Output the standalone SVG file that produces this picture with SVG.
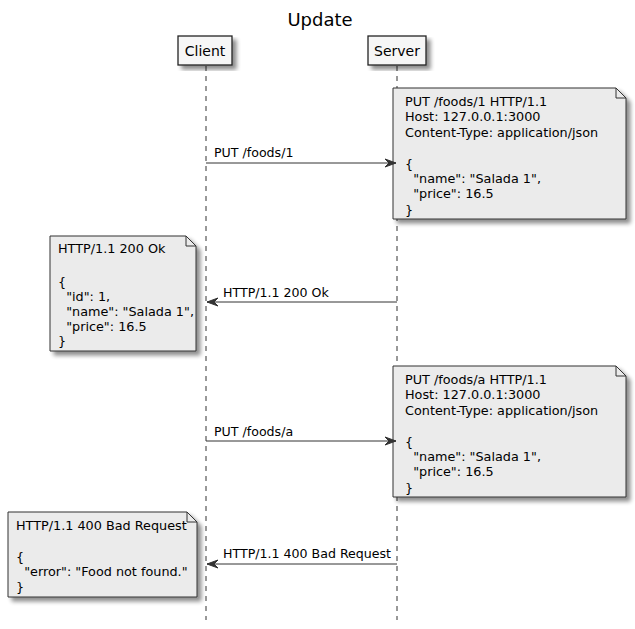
<svg xmlns="http://www.w3.org/2000/svg" width="635" height="629" viewBox="0 0 635 629">
<defs>
<filter id="sh" x="-10%" y="-10%" width="130%" height="130%">
<feGaussianBlur in="SourceAlpha" stdDeviation="2"/>
<feOffset dx="4" dy="4" result="b"/>
<feComponentTransfer><feFuncA type="linear" slope="0.45"/></feComponentTransfer>
<feMerge><feMergeNode/><feMergeNode in="SourceGraphic"/></feMerge>
</filter>
<marker id="ah" viewBox="0 0 12 10" refX="11" refY="5" markerWidth="12" markerHeight="10" markerUnits="userSpaceOnUse" orient="auto">
<polygon points="0,1 11,5 0,9 4,5" fill="#333" stroke="#333" stroke-width="1"/>
</marker>
</defs>
<style>
text{font-family:"DejaVu Sans","Liberation Sans",sans-serif;fill:#000}
.t{font-size:18px}
.p{font-size:14px}
.m{font-size:12.6px}
.n{font-size:12.8px}
.life{stroke:#333;stroke-width:1;stroke-dasharray:5,5}
.box{fill:#F6F6F6;stroke:#222;stroke-width:1.3;filter:url(#sh)}
.note{fill:#EBEBEB;stroke:#333;stroke-width:1;filter:url(#sh)}
.fold{fill:none;stroke:#333;stroke-width:1}
.msg{stroke:#333;stroke-width:1;marker-end:url(#ah)}
</style>
<rect width="635" height="629" fill="#fff"/>
<text class="t" x="320" y="26" text-anchor="middle">Update</text>

<g id="lifelines">
<line class="life" x1="206" y1="66" x2="206" y2="620"/>
<line class="life" x1="397" y1="66" x2="397" y2="620"/>
</g>

<g id="client">
<rect class="box" x="178" y="36" width="54" height="29"/>
<text class="p" x="205" y="56" text-anchor="middle">Client</text>
</g>
<g id="server">
<rect class="box" x="368" y="36" width="58" height="29"/>
<text class="p" x="397" y="56" text-anchor="middle">Server</text>
</g>

<g id="note1">
<path class="note" d="M393,88 H616 L626,98 V219 H393 Z"/>
<path class="fold" d="M616,88 V98 H626"/>
<text class="n" x="405" y="106">PUT /foods/1 HTTP/1.1</text>
<text class="n" x="405" y="121">Host: 127.0.0.1:3000</text>
<text class="n" x="405" y="137">Content-Type: application/json</text>
<text class="n" x="405" y="168">{</text>
<text class="n" x="405" y="183" xml:space="preserve">  "name": "Salada 1",</text>
<text class="n" x="405" y="198" xml:space="preserve">  "price": 16.5</text>
<text class="n" x="405" y="214">}</text>
</g>

<g id="note2">
<path class="note" d="M50,236 H186 L196,246 V351 H50 Z"/>
<path class="fold" d="M186,236 V246 H196"/>
<text class="n" x="58" y="253">HTTP/1.1 200 Ok</text>
<text class="n" x="58" y="286">{</text>
<text class="n" x="58" y="301" xml:space="preserve">  "id": 1,</text>
<text class="n" x="58" y="316" xml:space="preserve">  "name": "Salada 1",</text>
<text class="n" x="58" y="331" xml:space="preserve">  "price": 16.5</text>
<text class="n" x="58" y="345">}</text>
</g>

<g id="note3">
<path class="note" d="M393,366 H616 L626,376 V497 H393 Z"/>
<path class="fold" d="M616,366 V376 H626"/>
<text class="n" x="405" y="384">PUT /foods/a HTTP/1.1</text>
<text class="n" x="405" y="399">Host: 127.0.0.1:3000</text>
<text class="n" x="405" y="415">Content-Type: application/json</text>
<text class="n" x="405" y="446">{</text>
<text class="n" x="405" y="461" xml:space="preserve">  "name": "Salada 1",</text>
<text class="n" x="405" y="476" xml:space="preserve">  "price": 16.5</text>
<text class="n" x="405" y="492">}</text>
</g>

<g id="note4">
<path class="note" d="M8,512 H187 L197,522 V597 H8 Z"/>
<path class="fold" d="M187,512 V522 H197"/>
<text class="n" x="16" y="530">HTTP/1.1 400 Bad Request</text>
<text class="n" x="16" y="561">{</text>
<text class="n" x="16" y="576" xml:space="preserve">  "error": "Food not found."</text>
<text class="n" x="16" y="591">}</text>
</g>

<g id="connectors">
<line class="msg" x1="206" y1="163" x2="396" y2="163"/>
<text class="m" x="214" y="157">PUT /foods/1</text>
<line class="msg" x1="397" y1="302" x2="207" y2="302"/>
<text class="m" x="223" y="297">HTTP/1.1 200 Ok</text>
<line class="msg" x1="206" y1="441" x2="396" y2="441"/>
<text class="m" x="214" y="436">PUT /foods/a</text>
<line class="msg" x1="397" y1="564" x2="207" y2="564"/>
<text class="m" x="223" y="558">HTTP/1.1 400 Bad Request</text>
</g>
</svg>
